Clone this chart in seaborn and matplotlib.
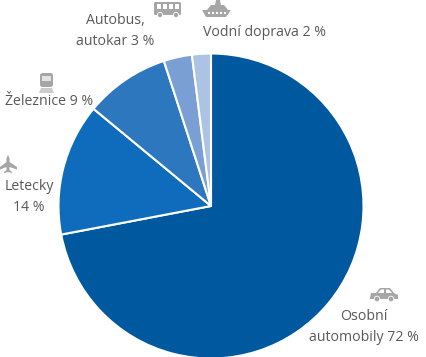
import matplotlib
matplotlib.use('Agg')
import matplotlib.pyplot as plt
from matplotlib.patches import Circle, Polygon, Rectangle, FancyBboxPatch
import seaborn as sns

categories = ['Osobní\nautomobily 72 %', 'Letecky\n14 %', 'Železnice 9 %', 'Autobus,\nautokar 3 %', 'Vodní doprava 2 %']
shares = [72, 14, 9, 3, 2]
colors = ['#00599f', '#0f6cbd', '#2d77bf', '#7a9fd4', '#adc3e3']

W, H = 427, 357
GRAY = '#a6a6a6'

sns.set_theme(style='white')
plt.rcParams['font.family'] = ['Open Sans', 'DejaVu Sans']

fig = plt.figure(figsize=(W / 100, H / 100), dpi=100)
ax = fig.add_axes([0, 0, 1, 1])

ax.pie(shares, colors=sns.color_palette(colors), startangle=90, counterclock=False,
       center=(211, H - 206), radius=152.5,
       wedgeprops={'edgecolor': 'white', 'linewidth': 1.5})
ax.set_xlim(0, W)
ax.set_ylim(0, H)
ax.set_aspect('equal')
ax.axis('off')

# label positions are in pixels from the top left of the image
label_pos = [(364, 327), (29, 197), (49, 102), (115, 31), (265, 32)]
for text, (x, y) in zip(categories, label_pos):
    ax.text(x, H - y, text, ha='center', va='center', fontsize=10.2,
            color='#595959', linespacing=1.5)


def add(p):
    ax.add_patch(p)


def px(points):
    return [(x, H - y) for x, y in points]


# plane
add(Polygon(px([(8, 155), (9.5, 158), (9.5, 162), (17, 167), (17, 169.5), (9.5, 167), (9.5, 170),
                (12, 172), (12, 173), (8, 172), (4, 173), (4, 172), (6.5, 170), (6.5, 167),
                (0, 169.5), (0, 167), (6.5, 162), (6.5, 158)]), fc=GRAY, ec='none'))

# train
add(FancyBboxPatch((40, H - 87), 13, 14, boxstyle='round,pad=0,rounding_size=2.5', fc=GRAY, ec='none'))
add(Rectangle((42, H - 81), 9, 5, fc='#e2e2e2', ec='none'))
add(Polygon(px([(41, 88), (52, 88), (54, 93), (39, 93)]), fc='#cccccc', ec='none'))

# bus
add(FancyBboxPatch((154, H - 15), 27, 13, boxstyle='round,pad=0,rounding_size=1.5', fc=GRAY, ec='none'))
for wx in (157, 163, 169, 175):
    add(Rectangle((wx, H - 9), 4.5, 5, fc='white', ec='none'))
add(Circle((160, H - 15), 2.6, fc=GRAY, ec='white', lw=0.6))
add(Circle((176, H - 15), 2.6, fc=GRAY, ec='white', lw=0.6))

# ship
add(Polygon(px([(202, 10), (231, 10), (226, 17), (206, 17)]), fc=GRAY, ec='none'))
add(Polygon(px([(207, 10), (211, 5), (215, 5), (216, 0), (220, 0), (221, 5), (224, 5), (228, 10)]),
            fc=GRAY, ec='none'))
for wx in (208, 212, 216, 220, 224):
    add(Rectangle((wx, H - 14), 2, 2, fc='white', ec='none'))

# car
add(Polygon(px([(370, 298), (371, 293), (376, 293), (380, 288), (390, 288), (394, 293),
                (398, 295), (398, 299), (370, 299)]), fc=GRAY, ec='none'))
add(Polygon(px([(378, 293), (381, 289.5), (384, 289.5), (384, 293)]), fc='white', ec='none'))
add(Polygon(px([(386, 293), (386, 289.5), (389, 289.5), (392, 293)]), fc='white', ec='none'))
add(Circle((377, H - 299), 2.8, fc=GRAY, ec='white', lw=0.6))
add(Circle((391, H - 299), 2.8, fc=GRAY, ec='white', lw=0.6))

fig.savefig('out.png', dpi=100)
